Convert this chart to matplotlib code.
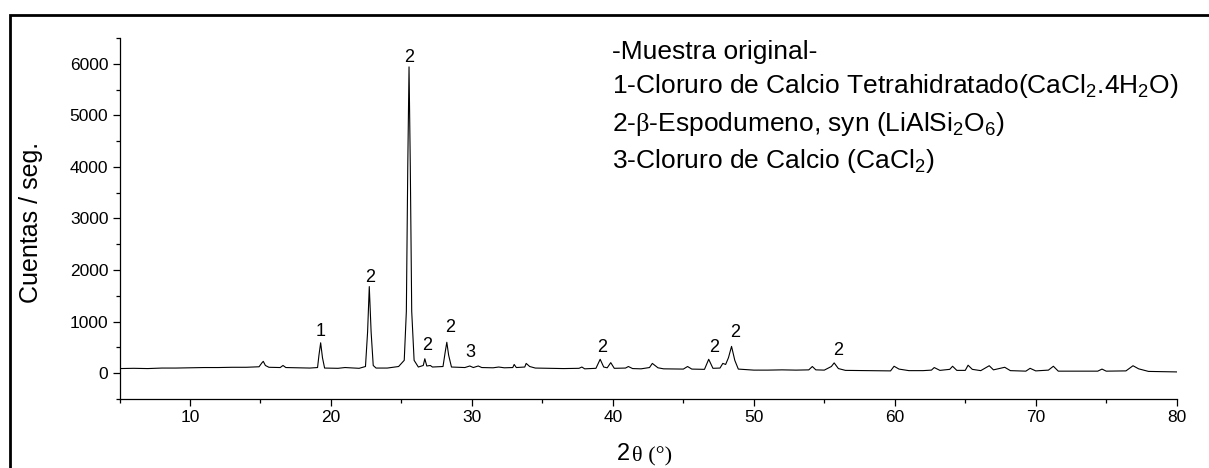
import matplotlib
matplotlib.use("Agg")
import matplotlib.pyplot as plt
from matplotlib.patches import Rectangle

plt.rcParams['font.family'] = ['Liberation Sans', 'DejaVu Sans']
plt.rcParams['mathtext.fontset'] = 'custom'
plt.rcParams['mathtext.rm'] = 'Liberation Sans'
plt.rcParams['mathtext.it'] = 'Liberation Sans:italic'
plt.rcParams['mathtext.cal'] = 'Liberation Serif'

# difractograma (2theta, cuentas/seg)
two_theta = [5.0, 6.0, 7.0, 8.0, 9.0, 10.0, 11.0, 12.0, 13.0, 14.0,
             14.9, 15.1, 15.2, 15.35, 15.6, 16.4, 16.6, 16.8, 17.5, 18.5,
             19.05, 19.15, 19.27, 19.4, 19.55, 20.5, 21.0, 22.0, 22.45, 22.6,
             22.72, 22.85, 23.0, 23.2, 24.0, 24.8, 25.2, 25.35, 25.45, 25.54,
             25.63, 25.73, 25.9, 26.2, 26.55, 26.66, 26.8, 27.05, 27.2, 27.95,
             28.1, 28.22, 28.35, 28.55, 29.5, 29.85, 30.1, 30.45, 30.7, 31.5,
             31.9, 32.3, 32.9, 33.0, 33.15, 33.75, 33.85, 34.1, 34.5, 35.5,
             36.5, 37.6, 37.8, 38.0, 38.8, 39.1, 39.35, 39.6, 39.85, 40.1,
             40.9, 41.1, 41.4, 42.0, 42.6, 42.8, 43.2, 43.6, 45.0, 45.3,
             45.6, 46.5, 46.8, 47.1, 47.6, 47.8, 48.0, 48.2, 48.42, 48.65,
             48.9, 50.0, 51.0, 52.0, 53.0, 53.9, 54.15, 54.4, 55.0, 55.5,
             55.7, 56.0, 56.5, 58.0, 59.7, 59.95, 60.3, 61.0, 62.0, 62.6,
             62.8, 63.2, 63.9, 64.1, 64.4, 65.0, 65.2, 65.5, 66.1, 66.7,
             67.0, 67.8, 68.2, 69.3, 69.6, 70.0, 70.9, 71.25, 71.6, 74.4,
             74.7, 75.0, 76.4, 76.9, 77.3, 78.0, 79.0, 80.0]
counts = [90, 95, 90, 100, 100, 105, 110, 110, 115, 115,
          125, 200, 230, 150, 115, 110, 150, 110, 105, 100,
          110, 350, 590, 300, 100, 95, 110, 95, 130, 800,
          1680, 800, 150, 100, 100, 130, 250, 1200, 4000, 5940,
          4000, 1200, 250, 120, 150, 280, 140, 150, 120, 130,
          400, 600, 350, 120, 110, 140, 110, 140, 110, 105,
          120, 105, 110, 170, 110, 120, 190, 130, 100, 95,
          90, 95, 120, 85, 95, 270, 120, 105, 205, 95,
          100, 130, 90, 85, 110, 190, 105, 85, 80, 130,
          80, 75, 270, 95, 100, 190, 170, 300, 520, 250,
          80, 60, 60, 65, 60, 65, 130, 65, 60, 130,
          200, 90, 55, 50, 45, 135, 80, 50, 50, 60,
          110, 55, 75, 135, 55, 55, 155, 75, 50, 145,
          65, 115, 50, 40, 95, 45, 60, 135, 40, 40,
          80, 40, 45, 145, 85, 35, 30, 25]

# etiquetas de picos
peak_text = ['1', '2', '2', '2', '2', '3', '2', '2', '2', '2']
peak_x = [19.3, 22.75, 25.55, 26.8, 28.45, 29.9, 39.25, 47.2, 48.7, 56.0]
peak_y = [640, 1700, 5960, 380, 720, 240, 330, 330, 620, 280]

legend_lines = ['-Muestra original-',
                r'1-Cloruro de Calcio Tetrahidratado(CaCl$_2$.4H$_2$O)',
                r'2-$\mathcal{β}$-Espodumeno, syn (LiAlSi$_2$O$_6$)',
                r'3-Cloruro de Calcio (CaCl$_2$)']

W, H = 1209, 468
fig = plt.figure(figsize=(W / 100, H / 100), dpi=100)
ax = fig.add_axes([119.5 / W, 1 - 399 / H, (1176.7 - 119.5) / W, (399 - 38) / H])

ax.plot(two_theta, counts, color='black', lw=0.8)
for t, x, y in zip(peak_text, peak_x, peak_y):
    ax.text(x, y, t, ha='center', va='bottom', fontsize=13)

ax.set_xlim(5, 80)
ax.set_ylim(-500, 6500)
ax.set_xticks([10, 20, 30, 40, 50, 60, 70, 80])
ax.set_xticks([5, 15, 25, 35, 45, 55, 65, 75], minor=True)
ax.set_yticks([0, 1000, 2000, 3000, 4000, 5000, 6000])
ax.set_yticks([-500, 500, 1500, 2500, 3500, 4500, 5500, 6500], minor=True)
ax.spines['top'].set_visible(False)
ax.spines['right'].set_visible(False)
for s in ['left', 'bottom']:
    ax.spines[s].set_linewidth(0.9)
ax.tick_params(which='major', length=5, width=0.9, labelsize=12.5,
               direction='out', pad=3)
ax.tick_params(which='minor', length=3, width=0.9, direction='out')

ax.set_ylabel('Cuentas / seg.', fontsize=18)
ax.yaxis.set_label_coords(-0.072, 0.49)

fig.text(630 / W, 1 - 460 / H, '2', ha='right', va='baseline', fontsize=17)
fig.text(632 / W, 1 - 460 / H, 'θ (°)', ha='left', va='baseline', fontsize=16,
         family='Liberation Serif')

baselines = [59, 93, 131, 168]
for line, yb in zip(legend_lines, baselines):
    fig.text(612 / W, 1 - yb / H, line, ha='left', va='baseline', fontsize=19)

fig.patches.append(Rectangle((10 / W, -0.1), 1.2, 1 - 15 / H + 0.1,
                             transform=fig.transFigure, fill=False,
                             edgecolor='black', lw=2))

fig.savefig('out.png', dpi=100)
